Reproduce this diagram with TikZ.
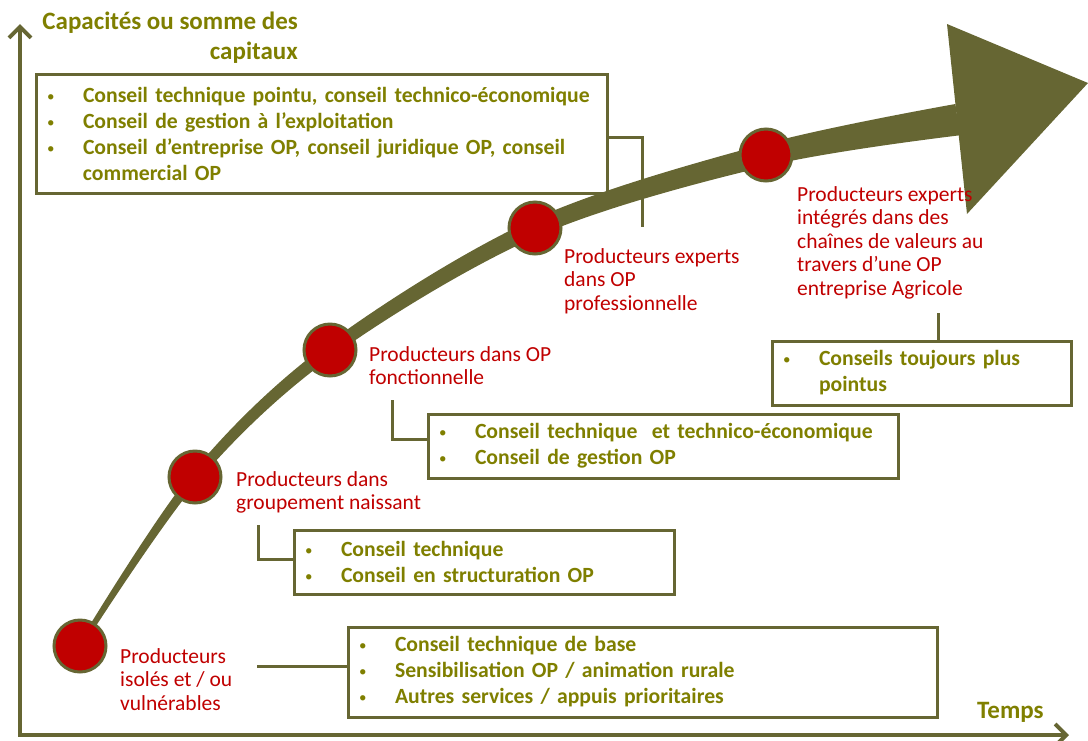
\documentclass[tikz,border=0pt]{standalone}
\usepackage{fontspec}
\setmainfont{Carlito}
\usetikzlibrary{arrows.meta,calc}
\definecolor{olivetext}{RGB}{127,127,0}
\definecolor{oliveline}{RGB}{102,102,51}
\definecolor{dotred}{RGB}{192,0,0}
\newcommand\itembul{\makebox[36pt][l]{\mdseries\raisebox{1pt}{\fontsize{15}{15}\selectfont•}}}
\newcommand\contline{\hspace*{36pt}}
\begin{document}
\begin{tikzpicture}[x=1pt,y=-1pt,
  box/.style={draw=oliveline, line width=3pt, inner xsep=11pt, inner ysep=0pt,
    align=left, text=olivetext, font=\fontsize{21.7}{26}\selectfont\bfseries},
  stage/.style={circle, draw=oliveline, line width=3pt, fill=dotred,
    minimum size=52pt, inner sep=0pt},
  stagelabel/.style={anchor=north west, inner sep=0pt, align=left, text=dotred,
    font=\fontsize{21.5}{23.5}\selectfont},
  conn/.style={draw=oliveline, line width=3pt},
  axis/.style={draw=oliveline, line width=4pt, line join=miter,
    {Straight Barb[length=11pt,width=22pt]}-{Straight Barb[length=11pt,width=22pt]}},
  axislabel/.style={inner sep=0pt, text=olivetext, font=\fontsize{25}{30}\selectfont\bfseries}
]
\useasboundingbox (0,0) rectangle (1088,740);

% axes
\coordinate (origin) at (20,735);
\coordinate (ytop) at (20,24);
\coordinate (xend) at (1069,735);
\draw[axis] (ytop) -- (origin) -- (xend);
\node[axislabel, anchor=north east, align=right] (ylab) at (298,12)
  {Capacités ou somme des\\capitaux};
\node[axislabel, anchor=base west] (xlab) at (977,718) {Temps};

% growth curve: a band that widens towards the arrow head
\fill[oliveline]
  plot[smooth, tension=0.55] coordinates {(77.9,644.6) (191.2,473.8) (326.2,344.8) (531.5,220.2) (763.3,144.3) (955.4,104)}
  -- plot[smooth, tension=0.55] coordinates {(959.8,135.3) (768.7,165.7) (538.5,235.8) (333.8,355.2) (198.8,480.2) (82.1,647.4)}
  -- cycle;
\fill[oliveline] (947,24) -- (1088,83) -- (967,214) -- cycle;

% stages along the curve
\node[stage] (s1) at (80,646) {};
\node[stage] (s2) at (195,477) {};
\node[stage] (s3) at (330,350) {};
\node[stage] (s4) at (535,228) {};
\node[stage] (s5) at (766,155) {};

\node[stagelabel] (l1) at (120,648) {Producteurs\\isolés et / ou\\vulnérables};
\node[stagelabel] (l2) at (236,471) {Producteurs dans\\groupement naissant};
\node[stagelabel] (l3) at (369,346) {Producteurs dans OP\\fonctionnelle};
\node[stagelabel] (l4) at (564,248) {Producteurs experts\\dans OP\\professionnelle};
\node[stagelabel] (l5) at (797,186) {Producteurs experts\\intégrés dans des\\chaînes de valeurs au\\travers d’une OP\\entreprise Agricole};

% advisory boxes
\node[box, minimum width=571pt, minimum height=119pt, text width=549pt] (bA) at (321.5,133.5)
  {\itembul Conseil technique pointu, conseil technico-économique\\
   \itembul Conseil de gestion à l’exploitation\\
   \itembul Conseil d’entreprise OP, conseil juridique OP, conseil\\
   \contline commercial OP};
\node[box, minimum width=299pt, minimum height=64pt, text width=277pt] (bB) at (921.5,373)
  {\itembul Conseils toujours plus\\
   \contline pointus};
\node[box, minimum width=470pt, minimum height=64pt, text width=448pt] (bC) at (663,446)
  {\itembul Conseil technique \ et technico-économique\\
   \itembul Conseil de gestion OP};
\node[box, minimum width=380pt, minimum height=64pt, text width=358pt] (bD) at (484,562)
  {\itembul Conseil technique\\
   \itembul Conseil en structuration OP};
\node[box, minimum width=589pt, minimum height=90pt, text width=567pt] (bE) at (642.5,672)
  {\itembul Conseil technique de base\\
   \itembul Sensibilisation OP / animation rurale\\
   \itembul Autres services / appuis prioritaires};

% connectors from the boxes
\coordinate (cA) at (642,227);
\coordinate (cB) at (938,313);
\coordinate (cC) at (392,400);
\coordinate (cD) at (258,525);
\coordinate (cE) at (257,666);
\draw[conn] ([yshift=-4pt]bA.east) -| (cA);
\draw[conn] (cB) -- (cB |- bB.north);
\draw[conn] (cC) |- ([yshift=7pt]bC.west);
\draw[conn] (cD) |- ([yshift=3pt]bD.west);
\draw[conn] (cE) -- (cE -| bE.west);
\end{tikzpicture}
\end{document}
